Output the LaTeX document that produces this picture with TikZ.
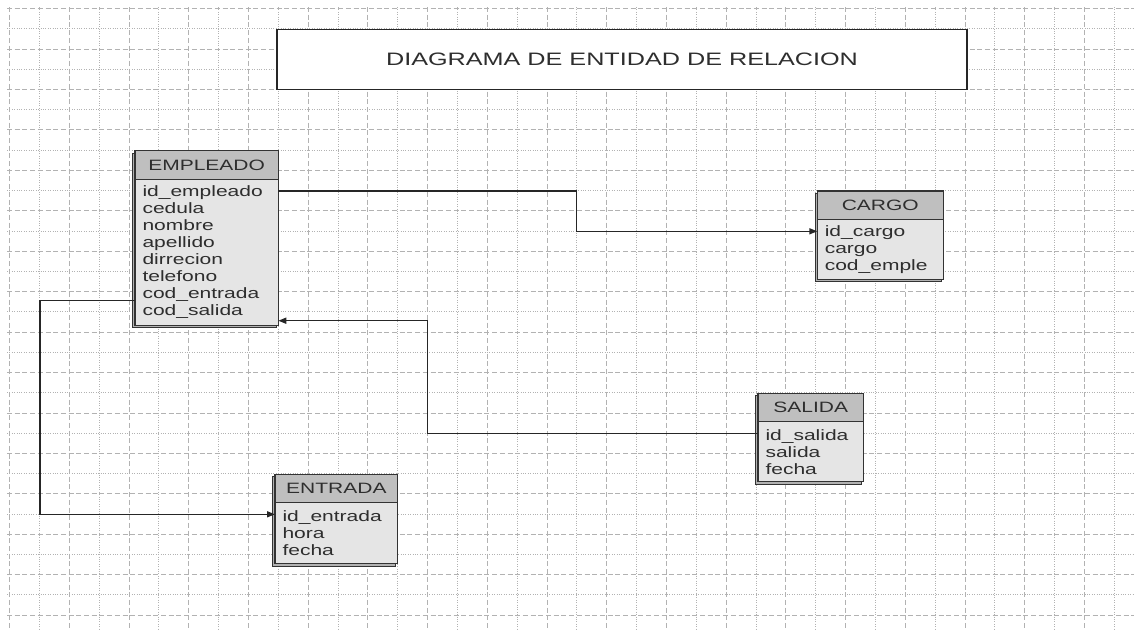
\documentclass[tikz,border=0pt]{standalone}
\usepackage{fontspec}
\setmainfont{Liberation Sans}[FakeStretch=1.4]
\usetikzlibrary{arrows.meta}
\definecolor{gridc}{gray}{0.7}
\definecolor{hdrc}{gray}{0.75}
\definecolor{bodyc}{gray}{0.9}
\definecolor{edgec}{gray}{0.2}
\definecolor{txtc}{gray}{0.18}
\pgfdeclarelayer{gridlayer}
\pgfdeclarelayer{shadowlayer}
\pgfsetlayers{gridlayer,shadowlayer,main}
\begin{document}
\begin{tikzpicture}[x=1pt,y=-1pt,
  gridh/.style={gridc, line width=0.8pt, dash pattern=on 5pt off 2.7pt},
  gridd/.style={gridc, line width=0.8pt, dash pattern=on 1pt off 1.4pt},
  ent/.style={draw=edgec, line width=1.1pt, anchor=north west, inner sep=0pt, outer sep=0pt,
    font=\fontsize{15}{17}\selectfont, text=txtc},
  hdr/.style={ent, fill=hdrc, minimum height=28.5pt, align=center},
  body/.style={ent, fill=bodyc, minimum height=60pt, align=left, inner xsep=7.5pt},
  shadowbox/.style={fill=gray!60, draw=edgec, line width=1pt},
  conn/.style={draw=black!85, line width=1.5pt},
  arr/.style={conn, -{Triangle[length=8pt,width=6pt]}},
  titlebox/.style={draw=black!85, line width=1.5pt, fill=white, inner sep=0pt,
    font=\fontsize{18}{20}\selectfont, text=txtc}
  ]
\begin{pgfonlayer}{gridlayer}
\useasboundingbox (0,0) rectangle (1134,630);
\fill[white] (0,0) rectangle (1134,630);
\foreach \k in {0,2,...,30} \draw[gridh] (7,{8.5+20.22*\k}) -- (1134,{8.5+20.22*\k});
\foreach \k in {1,3,...,29} \draw[gridd] (7,{8.5+20.22*\k}) -- (1134,{8.5+20.22*\k});
\foreach \j in {0,2,...,36} \draw[gridh] ({9.5+29.86*\j},7) -- ({9.5+29.86*\j},630);
\foreach \j in {1,3,...,37} \draw[gridd] ({9.5+29.86*\j},7) -- ({9.5+29.86*\j},630);
\end{pgfonlayer}
% title
\node[titlebox, minimum width=690pt, minimum height=60pt] (title) at (622,59.3) {DIAGRAMA DE ENTIDAD DE RELACION};
% entities
\node[hdr, minimum width=143.3pt] (emp) at (135,150.7) {EMPLEADO};
\node[body, text width=128.3pt, minimum height=146pt] (empb) at (emp.south west)
  {id\_empleado\\cedula\\nombre\\apellido\\dirrecion\\telefono\\cod\_entrada\\cod\_salida};
\node[hdr, minimum width=126pt] (car) at (817.3,191) {CARGO};
\node[body, text width=111pt] (carb) at (car.south west) {id\_cargo\\cargo\\cod\_emple};
\node[hdr, minimum width=105.3pt] (sal) at (758,393.3) {SALIDA};
\node[body, text width=90.3pt] (salb) at (sal.south west) {id\_salida\\salida\\fecha};
\node[hdr, minimum width=122.7pt] (ent) at (275,474.3) {ENTRADA};
\node[body, text width=107.7pt, minimum height=61pt] (entb) at (ent.south west) {id\_entrada\\hora\\fecha};
% shadows (lower-left offset)
\begin{pgfonlayer}{shadowlayer}
\foreach \h/\b in {emp/empb, car/carb, sal/salb, ent/entb}
  \draw[shadowbox] ([xshift=-2.3pt,yshift=-2.3pt]\h.north west) rectangle ([xshift=-2.3pt,yshift=-2.3pt]\b.south east);
\end{pgfonlayer}
% connectors
\coordinate (c1a) at (576.7,191);
\coordinate (c1b) at (576.7,231.3);
\draw[arr] (c1a -| empb.east) -- (c1a) -- (c1b) -- (c1b -| carb.west);
\coordinate (c2a) at (427.3,433.3);
\coordinate (c2b) at (427.3,320.7);
\draw[arr] (c2a -| salb.west) -- (c2a) -- (c2b) -- (c2b -| empb.east);
\coordinate (c3a) at (40,300.7);
\coordinate (c3b) at (40,514.3);
\draw[arr] (c3a -| empb.west) -- (c3a) -- (c3b) -- (c3b -| entb.west);
\end{tikzpicture}
\end{document}
